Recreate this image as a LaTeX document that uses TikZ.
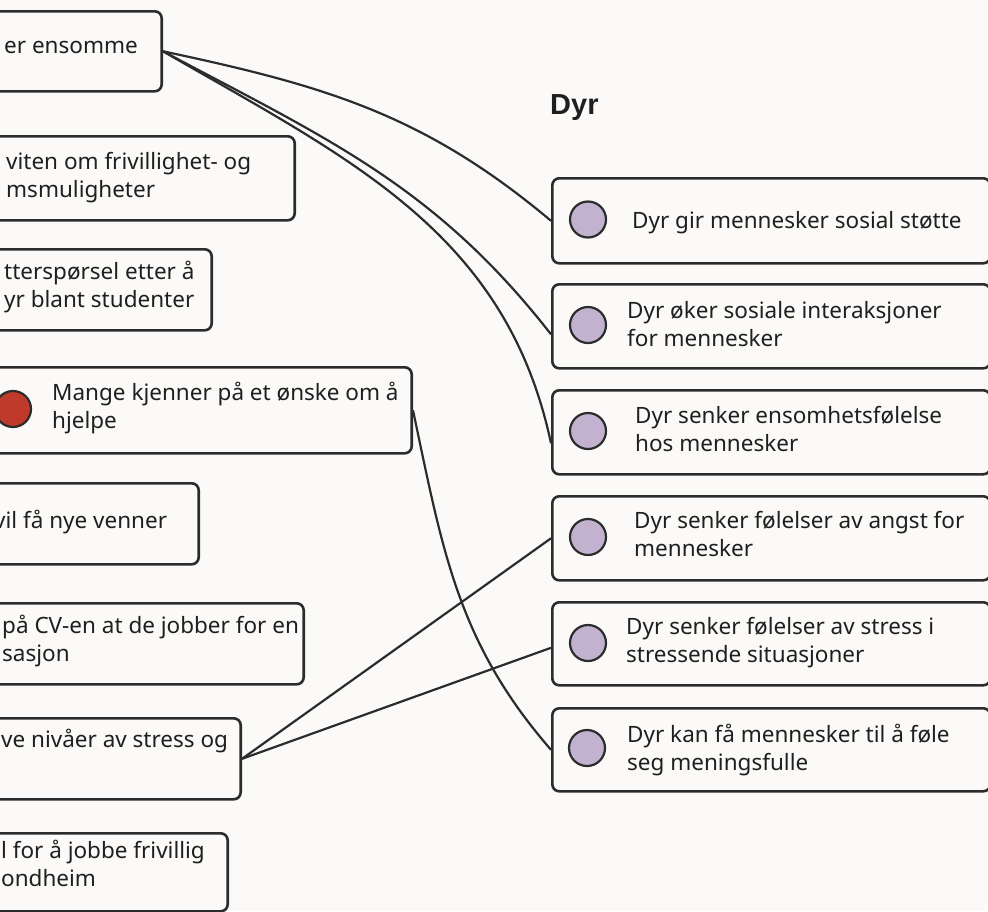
\documentclass[tikz,border=0pt]{standalone}
\usepackage{fontspec}
\setmainfont{Noto Sans}
\newfontfamily\headfont{Liberation Sans}
\usetikzlibrary{positioning}

\definecolor{bg}{HTML}{FBFAF8}
\definecolor{ink}{HTML}{1E1F1E}
\definecolor{linegray}{HTML}{2B2D2C}
\definecolor{lilac}{HTML}{C2B1CF}
\definecolor{brick}{HTML}{C03A2B}

\tikzset{
  card/.style={draw=linegray,line width=2.6pt,rounded corners=7pt,fill=bg,inner sep=0pt},
  blob/.style={circle,draw=linegray,line width=2.2pt,minimum size=36pt,inner sep=0pt},
  txt/.style={anchor=base west,align=left,inner sep=0pt,text=ink,font=\fontsize{22.5}{28}\selectfont},
  link/.style={draw=linegray,line width=2.2pt}
}

\begin{document}
\begin{tikzpicture}[x=1pt,y=1pt]
\useasboundingbox (0,0) rectangle (988,-911);
\clip (0,0) rectangle (988,-911);
\fill[bg] (0,0) rectangle (988,-911);

% venstre kolonne (kuttet)
\node[card,anchor=north east,minimum width=200pt,minimum height=80pt] (ensomme) at (163,-10) {};
\node[card,anchor=north east,minimum width=330pt,minimum height=84pt] (viten) at (296,-135) {};
\node[card,anchor=north east,minimum width=250pt,minimum height=81pt] (sporsel) at (213,-248) {};
\node[card,anchor=north east,minimum width=450pt,minimum height=86pt] (hjelpe) at (413,-366) {};
\node[card,anchor=north east,minimum width=240pt,minimum height=81pt] (venner) at (200,-482) {};
\node[card,anchor=north east,minimum width=340pt,minimum height=81pt] (cv) at (305,-602) {};
\node[card,anchor=north east,minimum width=280pt,minimum height=81pt] (stress) at (242,-717) {};
\node[card,anchor=north east,minimum width=270pt,minimum height=78pt] (trondheim) at (229,-832) {};

\node[blob,fill=brick] (rod) at (13,-409) {};

% (grunnlinja til siste linje)
\node[txt] (t1) at (4,-53) {er ensomme};
\node[txt] (t2) at (6,-197) {viten om frivillighet- og\\msmuligheter};
\node[txt] (t3) at (4,-307) {tterspørsel etter å\\yr blant studenter};
\node[txt] (t4) at (52,-428) {Mange kjenner på et ønske om å\\hjelpe};
\node[txt] (t5) at (-6,-528) {vil få nye venner};
\node[txt] (t6) at (2,-661) {på CV-en at de jobber for en\\sasjon};
\node[txt] (t7) at (1,-747) {ve nivåer av stress og};
\node[txt] (t8) at (1,-886) {l for å jobbe frivillig\\ondheim};

% Dyr
\node[anchor=base west,inner sep=0pt,text=ink,font=\fontsize{29}{32}\headfont\bfseries] (dyr) at (550,-114) {Dyr};

\node[card,anchor=north west,minimum width=438pt,minimum height=85pt] (stotte) at (551,-177) {};
\node[card,anchor=north west,minimum width=438pt,minimum height=84pt] (interaksjon) at (551,-283) {};
\node[card,anchor=north west,minimum width=438pt,minimum height=84pt] (ensomhet) at (551,-389) {};
\node[card,anchor=north west,minimum width=438pt,minimum height=84pt] (angst) at (551,-495) {};
\node[card,anchor=north west,minimum width=438pt,minimum height=83pt] (situasjon) at (551,-601) {};
\node[card,anchor=north west,minimum width=438pt,minimum height=83pt] (mening) at (551,-707) {};

\node[blob,fill=lilac] (p1) at (588,-219.5) {};
\node[blob,fill=lilac] (p2) at (588,-325) {};
\node[blob,fill=lilac] (p3) at (588,-431) {};
\node[blob,fill=lilac] (p4) at (588,-537) {};
\node[blob,fill=lilac] (p5) at (588,-643) {};
\node[blob,fill=lilac] (p6) at (587,-748) {};

\node[txt] (r1) at (632,-228) {Dyr gir mennesker sosial støtte};
\node[txt] (r2) at (627,-346) {Dyr øker sosiale interaksjoner\\for mennesker};
\node[txt] (r3) at (635,-451) {Dyr senker ensomhetsfølelse\\hos mennesker};
\node[txt] (r4) at (634,-556) {Dyr senker følelser av angst for\\mennesker};
\node[txt] (r5) at (626,-662) {Dyr senker følelser av stress i\\stressende situasjoner};
\node[txt] (r6) at (627,-770) {Dyr kan få mennesker til å føle\\seg meningsfulle};

% koblinger
\draw[link] (ensomme.east) to[out=-12,in=140] (stotte.west);
\draw[link] (ensomme.east) to[out=-28,in=128] ([yshift=-8pt]interaksjon.west);
\draw[link] (ensomme.east) to[out=-30,in=102] ([yshift=-11pt]ensomhet.west);
\draw[link] (hjelpe.east) to[out=-78,in=131] (mening.west);
\draw[link] (stress.east) -- (angst.west);
\draw[link] (stress.east) -- ([yshift=-4pt]situasjon.west);
\end{tikzpicture}
\end{document}
